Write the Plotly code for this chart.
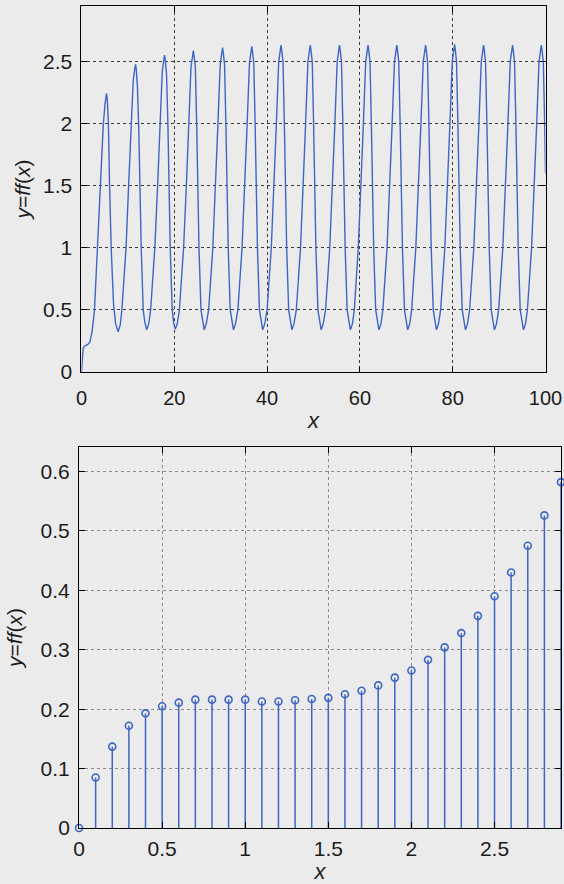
import plotly.graph_objects as go

# ---------------- data: top panel (continuous curve) ----------------
X_CURVE = [
    0, 0.15, 0.35, 0.7, 1.3, 1.8, 2.3, 2.8, 3.4, 4.0, 4.7, 5.1, 5.4,
    5.55, 5.8, 6.05, 6.4, 6.9, 7.35, 7.9,
    8.35, 8.7, 9.6, 10.15, 10.65, 11.15, 11.5, 11.65, 11.8, 12.05, 12.35, 12.58, 12.87, 13.3, 13.65, 14.05,
    14.5, 14.9, 15.8, 16.4, 16.9, 17.4, 17.75, 17.9, 18.05, 18.33, 18.62, 18.83, 19.12, 19.55, 19.85, 20.2,
    20.65, 21.1, 22.0, 22.6, 23.1, 23.6, 23.95, 24.1, 24.25, 24.53, 24.82, 25.03, 25.32, 25.75, 26.1, 26.45,
    26.9, 27.4, 28.3, 28.9, 29.4, 29.9, 30.25, 30.4, 30.55, 30.83, 31.12, 31.33, 31.62, 32.05, 32.4, 32.75,
    33.2, 33.7, 34.6, 35.2, 35.7, 36.2, 36.55, 36.7, 36.85, 37.13, 37.42, 37.63, 37.92, 38.35, 38.7, 39.05,
    39.5, 40.0, 40.9, 41.5, 42.0, 42.5, 42.85, 43.0, 43.15, 43.43, 43.72, 43.93, 44.22, 44.65, 45.0, 45.35,
    45.8, 46.3, 47.2, 47.8, 48.3, 48.8, 49.15, 49.3, 49.45, 49.73, 50.02, 50.23, 50.52, 50.95, 51.3, 51.65,
    52.1, 52.6, 53.5, 54.1, 54.6, 55.1, 55.45, 55.6, 55.75, 56.03, 56.32, 56.53, 56.82, 57.25, 57.6, 57.95,
    58.4, 58.8, 59.65, 60.25, 60.75, 61.25, 61.6, 61.75, 61.9, 62.18, 62.47, 62.68, 62.97, 63.4, 63.75, 64.1,
    64.55, 64.95, 65.85, 66.45, 66.95, 67.45, 67.8, 67.95, 68.1, 68.38, 68.67, 68.88, 69.17, 69.6, 69.95, 70.3,
    70.75, 71.15, 72.05, 72.65, 73.15, 73.65, 74.0, 74.15, 74.3, 74.58, 74.87, 75.08, 75.37, 75.8, 76.15, 76.5,
    76.95, 77.4, 78.3, 78.9, 79.4, 79.9, 80.25, 80.4, 80.55, 80.83, 81.12, 81.33, 81.62, 82.05, 82.4, 82.75,
    83.2, 83.65, 84.55, 85.15, 85.65, 86.15, 86.5, 86.65, 86.8, 87.08, 87.37, 87.58, 87.87, 88.3, 88.65, 89.0,
    89.45, 89.9, 90.8, 91.4, 91.9, 92.4, 92.75, 92.9, 93.05, 93.33, 93.62, 93.83, 94.12, 94.55, 94.9, 95.25,
    95.7, 96.1, 97.0, 97.6, 98.1, 98.6, 98.95, 99.1, 99.25, 99.53, 99.82, 100.0,
]
Y_CURVE = [
    0, 0.12, 0.19, 0.21, 0.22, 0.24, 0.33, 0.5, 1.0, 1.5, 2.0, 2.17, 2.245,
    2.2, 2.0, 1.5, 1.0, 0.55, 0.39, 0.325,
    0.38, 0.5, 1.0, 1.5, 1.95, 2.35, 2.45, 2.48, 2.44, 2.3, 1.95, 1.5, 1.0, 0.5, 0.40, 0.34,
    0.39, 0.5, 1.0, 1.5, 2.0, 2.42, 2.52, 2.555, 2.52, 2.4, 2.0, 1.5, 1.0, 0.5, 0.40, 0.345,
    0.39, 0.5, 1.0, 1.5, 2.0, 2.46, 2.55, 2.59, 2.55, 2.46, 2.0, 1.5, 1.0, 0.5, 0.40, 0.34,
    0.39, 0.5, 1.0, 1.5, 2.0, 2.48, 2.575, 2.615, 2.575, 2.48, 2.0, 1.5, 1.0, 0.5, 0.40, 0.34,
    0.39, 0.5, 1.0, 1.5, 2.0, 2.49, 2.585, 2.625, 2.585, 2.49, 2.0, 1.5, 1.0, 0.5, 0.40, 0.34,
    0.39, 0.5, 1.0, 1.5, 2.0, 2.5, 2.595, 2.635, 2.595, 2.5, 2.0, 1.5, 1.0, 0.5, 0.40, 0.34,
    0.39, 0.5, 1.0, 1.5, 2.0, 2.5, 2.595, 2.635, 2.595, 2.5, 2.0, 1.5, 1.0, 0.5, 0.40, 0.34,
    0.39, 0.5, 1.0, 1.5, 2.0, 2.5, 2.595, 2.635, 2.595, 2.5, 2.0, 1.5, 1.0, 0.5, 0.40, 0.34,
    0.39, 0.5, 1.0, 1.5, 2.0, 2.5, 2.595, 2.635, 2.595, 2.5, 2.0, 1.5, 1.0, 0.5, 0.40, 0.34,
    0.39, 0.5, 1.0, 1.5, 2.0, 2.5, 2.595, 2.635, 2.595, 2.5, 2.0, 1.5, 1.0, 0.5, 0.40, 0.34,
    0.39, 0.5, 1.0, 1.5, 2.0, 2.5, 2.595, 2.635, 2.595, 2.5, 2.0, 1.5, 1.0, 0.5, 0.40, 0.34,
    0.39, 0.5, 1.0, 1.5, 2.0, 2.5, 2.6, 2.64, 2.6, 2.5, 2.0, 1.5, 1.0, 0.5, 0.40, 0.34,
    0.39, 0.5, 1.0, 1.5, 2.0, 2.5, 2.595, 2.635, 2.595, 2.5, 2.0, 1.5, 1.0, 0.5, 0.40, 0.34,
    0.39, 0.5, 1.0, 1.5, 2.0, 2.5, 2.595, 2.635, 2.595, 2.5, 2.0, 1.5, 1.0, 0.5, 0.40, 0.34,
    0.39, 0.5, 1.0, 1.5, 2.0, 2.5, 2.595, 2.635, 2.595, 2.5, 2.0, 1.6,
]

# ---------------- data: bottom panel (stem plot) ----------------
X_STEM = [0.0, 0.1, 0.2, 0.3, 0.4, 0.5, 0.6, 0.7, 0.8, 0.9,
          1.0, 1.1, 1.2, 1.3, 1.4, 1.5, 1.6, 1.7, 1.8, 1.9,
          2.0, 2.1, 2.2, 2.3, 2.4, 2.5, 2.6, 2.7, 2.8, 2.9]
Y_STEM = [0.0, 0.085, 0.137, 0.172, 0.193, 0.205, 0.211, 0.216, 0.216, 0.216,
          0.216, 0.213, 0.213, 0.215, 0.217, 0.219, 0.225, 0.231, 0.240, 0.253,
          0.265, 0.283, 0.304, 0.328, 0.357, 0.390, 0.430, 0.475, 0.526, 0.582]

# tick labels
TOP_X_TICKS = [0, 20, 40, 60, 80, 100]
TOP_Y_TICKS = [0, 0.5, 1, 1.5, 2, 2.5]
BOT_X_TICKS = [0, 0.5, 1, 1.5, 2, 2.5]
BOT_Y_TICKS = [0, 0.1, 0.2, 0.3, 0.4, 0.5, 0.6]

BLUE = "#3d66c4"
BG = "#ebebeb"
FONT = "Liberation Sans, Arial, sans-serif"
INK = "#1c1c1c"
YTITLE = "<i>y</i>=<i>ff</i>(<i>x</i>)"

fig = go.Figure()

# top: continuous line
fig.add_trace(go.Scatter(x=X_CURVE, y=Y_CURVE, mode="lines",
                         line=dict(color=BLUE, width=1.4),
                         xaxis="x", yaxis="y", hoverinfo="skip"))

# bottom: stems (vertical lines from 0) + open circle markers
stem_x, stem_y = [], []
for xv, yv in zip(X_STEM, Y_STEM):
    stem_x += [xv, xv, None]
    stem_y += [0, yv, None]
fig.add_trace(go.Scatter(x=stem_x, y=stem_y, mode="lines",
                         line=dict(color=BLUE, width=1.5),
                         xaxis="x2", yaxis="y2", hoverinfo="skip"))
fig.add_trace(go.Scatter(x=X_STEM, y=Y_STEM, mode="markers",
                         marker=dict(symbol="circle-open", size=7, color=BLUE,
                                     line=dict(width=1.6, color=BLUE)),
                         cliponaxis=False,
                         xaxis="x2", yaxis="y2"))

common = dict(showline=True, linecolor="black", linewidth=1, mirror="ticks",
              ticks="inside", ticklen=6, tickcolor="black", tickwidth=1,
              showgrid=True, griddash="dot", gridwidth=1,
              zeroline=False, automargin=False, ticklabeloverflow="allow",
              tickfont=dict(family=FONT, size=21, color=INK))

fig.update_layout(
    width=564, height=884, autosize=False,
    margin=dict(l=0, r=0, t=0, b=0),
    paper_bgcolor=BG, plot_bgcolor=BG,
    showlegend=False,
    font=dict(family=FONT, color=INK),
    xaxis=dict(common, domain=[0.1445, 0.9672], anchor="y", range=[0, 100],
               tickvals=TOP_X_TICKS, gridcolor="#3a3a3a", ticklabelstandoff=8,
               tickfont=dict(family=FONT, size=20, color=INK),
               title=dict(text="<i>x</i>", font=dict(family=FONT, size=22, color=INK), standoff=4)),
    yaxis=dict(common, domain=[0.5792, 0.9932], anchor="x", range=[0, 2.95],
               tickvals=TOP_Y_TICKS, gridcolor="#3a3a3a", ticklabelstandoff=4,
               title=dict(text=YTITLE, font=dict(family=FONT, size=21, color=INK), standoff=6)),
    xaxis2=dict(common, domain=[0.1401, 0.9947], anchor="y2", range=[0, 2.9],
                tickvals=BOT_X_TICKS, gridcolor="#8a8a8a", ticklabelstandoff=2,
                title=dict(text="<i>x</i>", font=dict(family=FONT, size=22, color=INK), standoff=4)),
    yaxis2=dict(common, domain=[0.0633, 0.4943], anchor="x2", range=[0, 0.641],
                tickvals=BOT_Y_TICKS, gridcolor="#8a8a8a", ticklabelstandoff=4,
                title=dict(text=YTITLE, font=dict(family=FONT, size=21, color=INK), standoff=12)),
)

fig.write_html("out.html")
